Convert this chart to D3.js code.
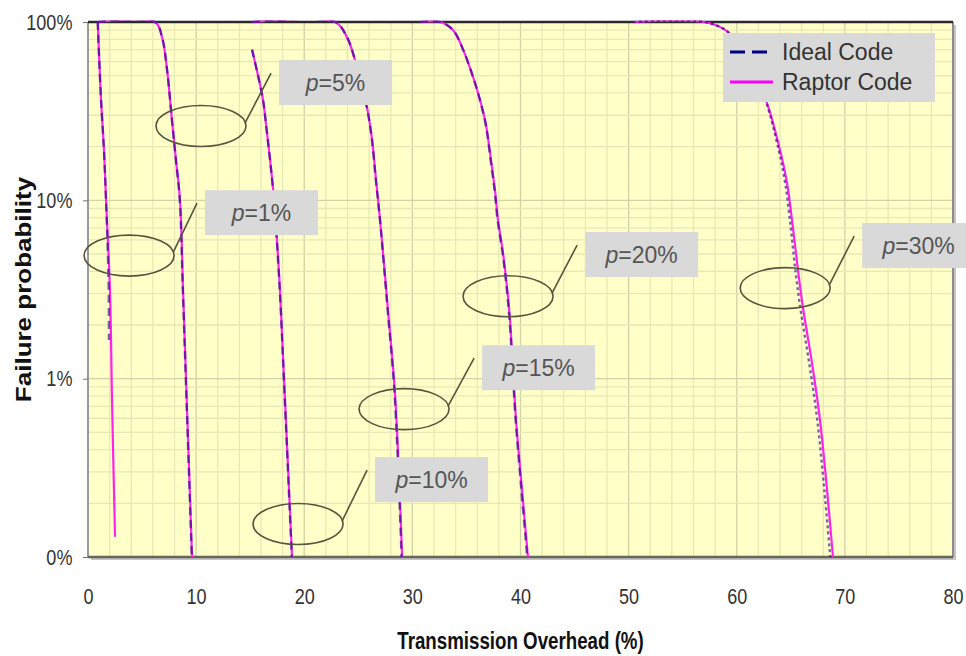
<!DOCTYPE html>
<html>
<head>
<meta charset="utf-8">
<script src="https://cdn.jsdelivr.net/npm/d3@7"></script>
<style>
body { margin:0; background:#fff; }
text { font-family: "Liberation Sans", Arial, sans-serif; }
</style>
</head>
<body>
<svg id="chart" width="966" height="656"></svg>
<script>
//Axis ticks//
var overheadTicks = [0,10,20,30,40,50,60,70,80];
var failureTicks = [1, 0.1, 0.01, 0.001];
var failureLabels = ["100%","10%","1%","0%"];

//Curves: [transmission overhead %, failure probability]//
var raptorP1  = [[0.9,1],[1.2,0.37],[1.48,0.19],[1.67,0.10],[2.04,0.030],[2.22,0.0076],[2.5,0.0013]];
var idealP1   = [[0.9,1],[1.2,0.37],[1.48,0.19],[1.67,0.10],[1.9,0.035],[1.94,0.0165]];
var raptorP5  = [[0.9,1],[6.2,1],[6.85,0.82],[7.31,0.54],[7.77,0.28],[8.14,0.168],[8.51,0.10],[8.79,0.0314],[9.07,0.0098],[9.34,0.0032],[9.62,0.001]];
var idealP5   = [[0.9,1],[6.2,1],[6.85,0.82],[7.31,0.54],[7.77,0.28],[8.13,0.168],[8.49,0.10],[8.77,0.0314],[9.05,0.0098],[9.32,0.0032],[9.6,0.001]];
var raptorP10 = [[15.17,0.70],[15.73,0.50],[16.19,0.365],[16.47,0.265],[16.84,0.168],[17.21,0.10],[17.76,0.031],[18.22,0.0076],[18.87,0.001]];
var idealP10  = [[15.17,0.70],[15.73,0.50],[16.19,0.365],[16.47,0.265],[16.84,0.168],[17.2,0.10],[17.74,0.031],[18.2,0.0076],[18.85,0.001]];
var raptorP15 = [[15.17,1],[22.85,1],[23.96,0.82],[24.7,0.61],[25.81,0.33],[26.27,0.22],[26.64,0.13],[27.01,0.078],[27.75,0.024],[28.4,0.0081],[29.05,0.001]];
var idealP15  = [[15.17,1],[22.85,1],[23.96,0.82],[24.7,0.61],[25.8,0.33],[26.25,0.22],[26.62,0.13],[27.0,0.078],[27.72,0.024],[28.36,0.0081],[29.0,0.001]];
var raptorP20 = [[30.7,1],[32.56,1],[33.77,0.90],[34.69,0.70],[35.62,0.49],[36.26,0.365],[36.81,0.2645],[37.27,0.168],[37.64,0.114],[37.92,0.0776],[38.38,0.0507],[38.75,0.0327],[39.03,0.0213],[39.31,0.0112],[39.59,0.00586],[40.14,0.00238],[40.69,0.001]];
var idealP20  = [[30.7,1],[32.56,1],[33.77,0.90],[34.69,0.70],[35.62,0.49],[36.25,0.365],[36.79,0.2645],[37.24,0.168],[37.6,0.114],[37.88,0.0776],[38.34,0.0507],[38.71,0.0327],[38.99,0.0213],[39.27,0.0112],[39.55,0.00586],[40.08,0.00238],[40.62,0.001]];
var raptorP30 = [[50.4,1],[57.06,1],[59.19,0.879],[60.76,0.653],[61.87,0.473],[62.8,0.351],[64.0,0.1915],[64.65,0.125],[65.2,0.070],[65.66,0.0407],[66.13,0.0249],[66.96,0.01224],[67.7,0.00586],[68.35,0.00238],[68.9,0.001]];
var idealP30  = [[50.4,1],[57.06,1],[59.19,0.879],[60.76,0.653],[61.85,0.473],[62.75,0.351],[63.88,0.1915],[64.48,0.125],[65.0,0.070],[65.42,0.0407],[65.88,0.0249],[66.7,0.01224],[67.45,0.00586],[68.1,0.00238],[68.65,0.001]];

var raptorCurves = [raptorP1, raptorP5, raptorP10, raptorP15, raptorP20, raptorP30];
var idealCurves  = [idealP1, idealP5, idealP10, idealP15, idealP20, idealP30];
var seriesNames  = ["Ideal Code", "Raptor Code"];

//Annotations: label, ellipse centre and label box corner, in data units//
var noteLabels  = ["=1%","=5%","=10%","=15%","=20%","=30%"];
var noteEllipse = [[3.8,0.049],[10.45,0.261],[19.43,0.00153],[29.23,0.00675],[38.85,0.029],[64.48,0.0322]];
var noteBox     = [[10.82,0.114],[17.67,0.612],[26.55,0.00363],[36.45,0.0154],[45.98,0.0664],[71.6,0.0746]];


var svg = d3.select("#chart"),
    margin = {top: 22, right: 13, bottom: 99, left: 88},
    width = +svg.attr("width") - margin.left - margin.right,
    height = +svg.attr("height") - margin.top - margin.bottom;

var x = d3.scaleLinear().domain([0, 80]).range([margin.left, margin.left + width]);
var y = d3.scaleLog().domain([0.001, 1]).range([margin.top + height, margin.top]);

//plot area with shadow
svg.append("rect")
    .attr("x", margin.left + 3).attr("y", margin.top + 3)
    .attr("width", width).attr("height", height)
    .attr("fill", "#c4c4c4");
svg.append("rect")
    .attr("x", margin.left).attr("y", margin.top)
    .attr("width", width).attr("height", height)
    .attr("fill", "#ffffc8");

//grid
var grid = svg.append("g").attr("class", "grid");
grid.selectAll(".vgrid")
    .data(d3.range(2, 80, 2))
    .enter().append("line")
      .attr("x1", function(d) { return x(d); })
      .attr("x2", function(d) { return x(d); })
      .attr("y1", margin.top).attr("y2", margin.top + height)
      .attr("stroke", function(d) { return d % 10 == 0 ? "#d2d2a6" : "#e8e8b6"; })
      .attr("stroke-width", 1.3);
grid.selectAll(".hgrid")
    .data(y.ticks().filter(function(d) { return d > 0.001 && d < 1; }))
    .enter().append("line")
      .attr("x1", margin.left).attr("x2", margin.left + width)
      .attr("y1", function(d) { return y(d); })
      .attr("y2", function(d) { return y(d); })
      .attr("stroke", function(d) { return failureTicks.indexOf(d) >= 0 ? "#d2d2a6" : "#e8e8b6"; })
      .attr("stroke-width", 1.3);

//frame
var x0 = margin.left, x1 = margin.left + width, y0 = margin.top, y1 = margin.top + height;
svg.append("line").attr("x1", x0).attr("x2", x0).attr("y1", y0).attr("y2", y1).attr("stroke", "#9a9a9a").attr("stroke-width", 2);
svg.append("line").attr("x1", x1).attr("x2", x1).attr("y1", y0).attr("y2", y1).attr("stroke", "#8c8c8c").attr("stroke-width", 2);
svg.append("line").attr("x1", x0).attr("x2", x1).attr("y1", y1).attr("y2", y1).attr("stroke", "#66665a").attr("stroke-width", 2.5);
svg.append("line").attr("x1", x0).attr("x2", x1).attr("y1", y0).attr("y2", y0).attr("stroke", "#2a2a2a").attr("stroke-width", 2.5);

//axes
var xAxis = svg.append("g")
    .attr("transform", "translate(0," + y1 + ")")
    .call(d3.axisBottom(x).tickValues(overheadTicks).tickSize(0).tickPadding(31));
var yAxis = svg.append("g")
    .attr("transform", "translate(" + x0 + ",0)")
    .call(d3.axisLeft(y).tickValues(failureTicks)
      .tickFormat(function(d, i) { return failureLabels[i]; })
      .tickSize(5).tickPadding(14));
[xAxis, yAxis].forEach(function(a) {
  a.select(".domain").remove();
  a.selectAll("line").attr("stroke", "#777");
  a.selectAll("text")
    .attr("font-family", "'Liberation Sans', Arial, sans-serif")
    .attr("font-size", "22px")
    .attr("fill", "#333")
    .attr("transform", "scale(0.82,1)");
});

svg.append("g")
    .attr("transform", "translate(" + ((x0 + x1) / 2) + ",649)")
  .append("text")
    .attr("text-anchor", "middle")
    .attr("font-size", "24px")
    .attr("font-weight", "bold")
    .attr("fill", "#111")
    .attr("transform", "scale(0.78,1)")
    .text("Transmission Overhead (%)");

svg.append("text")
    .attr("transform", "translate(31," + ((y0 + y1) / 2) + ") rotate(-90) scale(1,0.82)")
    .attr("text-anchor", "middle")
    .attr("font-size", "26px")
    .attr("font-weight", "bold")
    .attr("fill", "#111")
    .text("Failure probability");

//curves, clipped to the plot so the spline can't poke out
svg.append("clipPath").attr("id", "plotclip")
  .append("rect")
    .attr("x", x0).attr("y", y0 - 1.5)
    .attr("width", width).attr("height", height + 1.5);

var line = d3.line()
    .x(function(d) { return x(d[0]); })
    .y(function(d) { return y(d[1]); })
    .curve(d3.curveCatmullRom.alpha(0.5));

var curves = svg.append("g").attr("clip-path", "url(#plotclip)");

curves.selectAll(".raptor")
    .data(raptorCurves)
    .enter().append("path")
      .attr("class", "raptor")
      .attr("d", line)
      .attr("fill", "none")
      .attr("stroke", "#ff22ee")
      .attr("stroke-width", 2.2);

curves.selectAll(".ideal")
    .data(idealCurves)
    .enter().append("path")
      .attr("class", "ideal")
      .attr("d", line)
      .attr("fill", "none")
      .attr("stroke", "#1a0090")
      .attr("stroke-opacity", 0.6)
      .attr("stroke-width", 2.4)
      .attr("stroke-dasharray", function(d, i) { return i == 5 ? "3,3" : "8,5"; });

//annotations
var rx = 45, ry = 20.5, boxW = 113, boxH = 45;
var notes = svg.selectAll(".note")
    .data(noteLabels)
    .enter().append("g")
      .attr("class", "note");

notes.append("ellipse")
    .attr("cx", function(d, i) { return x(noteEllipse[i][0]); })
    .attr("cy", function(d, i) { return y(noteEllipse[i][1]); })
    .attr("rx", rx).attr("ry", ry)
    .attr("fill", "none")
    .attr("stroke", "#55553f")
    .attr("stroke-width", 1.6);

notes.append("line")
    .attr("x1", function(d, i) { return x(noteEllipse[i][0]) + rx - 1; })
    .attr("y1", function(d, i) { return y(noteEllipse[i][1]) - 3; })
    .attr("x2", function(d, i) { return x(noteBox[i][0]) - 8; })
    .attr("y2", function(d, i) { return y(noteBox[i][1]) + 13; })
    .attr("stroke", "#55553f")
    .attr("stroke-width", 1.6);

notes.append("rect")
    .attr("x", function(d, i) { return x(noteBox[i][0]); })
    .attr("y", function(d, i) { return y(noteBox[i][1]); })
    .attr("width", boxW).attr("height", boxH)
    .attr("fill", "#d9d9d9");

var noteText = notes.append("text")
    .attr("x", function(d, i) { return x(noteBox[i][0]) + boxW / 2; })
    .attr("y", function(d, i) { return y(noteBox[i][1]) + boxH / 2 + 8; })
    .attr("text-anchor", "middle")
    .attr("font-size", "23px")
    .attr("fill", "#555");
noteText.append("tspan").attr("font-style", "italic").text("p");
noteText.append("tspan").text(function(d) { return d; });

//legend
var legend = svg.append("g").attr("class", "legend");
legend.append("rect")
    .attr("x", 723).attr("y", 33)
    .attr("width", 212).attr("height", 69)
    .attr("fill", "#d9d9d9");

var legendItems = legend.selectAll(".item")
    .data(seriesNames)
    .enter().append("g")
      .attr("class", "item")
      .attr("transform", function(d, i) { return "translate(730," + (52 + i * 30) + ")"; });

legendItems.append("line")
    .attr("x1", 0)
    .attr("x2", function(d, i) { return i == 0 ? 37 : 43; })
    .attr("stroke", function(d, i) { return i == 0 ? "#000080" : "#ff00ff"; })
    .attr("stroke-width", 3)
    .attr("stroke-dasharray", function(d, i) { return i == 0 ? "15,7" : null; });

legendItems.append("text")
    .attr("x", 52)
    .attr("dy", "0.36em")
    .attr("font-size", "23px")
    .attr("fill", "#333")
    .text(function(d) { return d; });
</script>
</body>
</html>
